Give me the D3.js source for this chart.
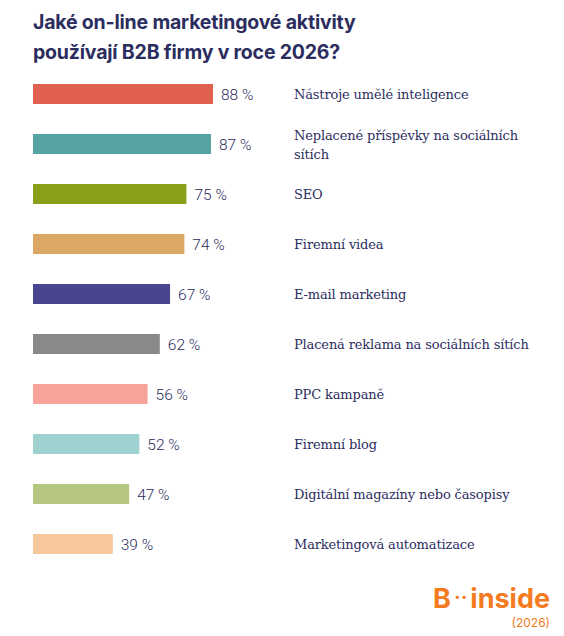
<!DOCTYPE html><html><head><meta charset="utf-8"><script src="https://cdn.jsdelivr.net/npm/d3@7"></script>
<style>body{margin:0;background:#fff}</style></head><body><svg id="c" width="564" height="636"></svg>
<script>
const categories=[["Nástroje umělé inteligence"],["Neplacené příspěvky na sociálních","sítích"],["SEO"],["Firemní videa"],["E-mail marketing"],["Placená reklama na sociálních sítích"],["PPC kampaně"],["Firemní blog"],["Digitální magazíny nebo časopisy"],["Marketingová automatizace"]];
const values=[88,87,75,74,67,62,56,52,47,39];
const colors=["#e0604f","#55a3a3","#8a9e1a","#dba864","#4a4590","#8a8888","#f8a39a","#9fd1d1","#b4c67f","#f7c89b"];
const svg=d3.select("#c"),navy="#2b2d5e";
svg.append("text").attr("x",33).attr("y",29).attr("font-family","Inter, sans-serif").attr("font-weight",700).attr("font-size",19.5).attr("letter-spacing",-0.2).attr("fill",navy).text("Jaké on-line marketingové aktivity");
svg.append("text").attr("x",33).attr("y",59).attr("font-family","Inter, sans-serif").attr("font-weight",700).attr("font-size",19.5).attr("letter-spacing",-0.2).attr("fill",navy).text("používají B2B firmy v roce 2026?");
const x=d3.scaleLinear().domain([0,88]).range([33,213]);
const y=d3.scaleBand().domain(d3.range(10)).range([69,569]);
const g=svg.selectAll("g.r").data(values).join("g");
g.append("rect").attr("x",x(0)).attr("y",(d,i)=>y(i)+y.bandwidth()/2-10).attr("height",20).attr("width",d=>x(d)-x(0)).attr("fill",(d,i)=>colors[i]);
g.append("text").attr("x",d=>x(d)+8).attr("y",(d,i)=>y(i)+y.bandwidth()/2+5.5).attr("font-family","Roboto, sans-serif").attr("font-weight",300).attr("font-size",15.5).attr("fill",navy).text(d=>d+" %");
g.each(function(d,i){const L=categories[i];const t=d3.select(this).append("text").attr("font-family","'DejaVu Serif', serif").attr("font-size",13).attr("letter-spacing",-0.15).attr("fill",navy);
L.forEach((s,k)=>t.append("tspan").attr("x",294).attr("y",y(i)+y.bandwidth()/2+5+(k-(L.length-1)/2)*19).text(s));});
const lg=svg.append("text").attr("x",550).attr("y",608).attr("text-anchor","end").attr("font-family","Inter, sans-serif").attr("font-weight",700).attr("font-size",27).attr("fill","#f47b20");
lg.append("tspan").text("B");lg.append("tspan").attr("font-size",20).attr("dx",3).attr("dy",-4).text("··");lg.append("tspan").attr("dx",3).attr("dy",4).text("inside");
svg.append("text").attr("x",550).attr("y",627).attr("text-anchor","end").attr("font-family","Inter, sans-serif").attr("font-size",12).attr("fill","#f47b20").text("(2026)");
</script></body></html>
